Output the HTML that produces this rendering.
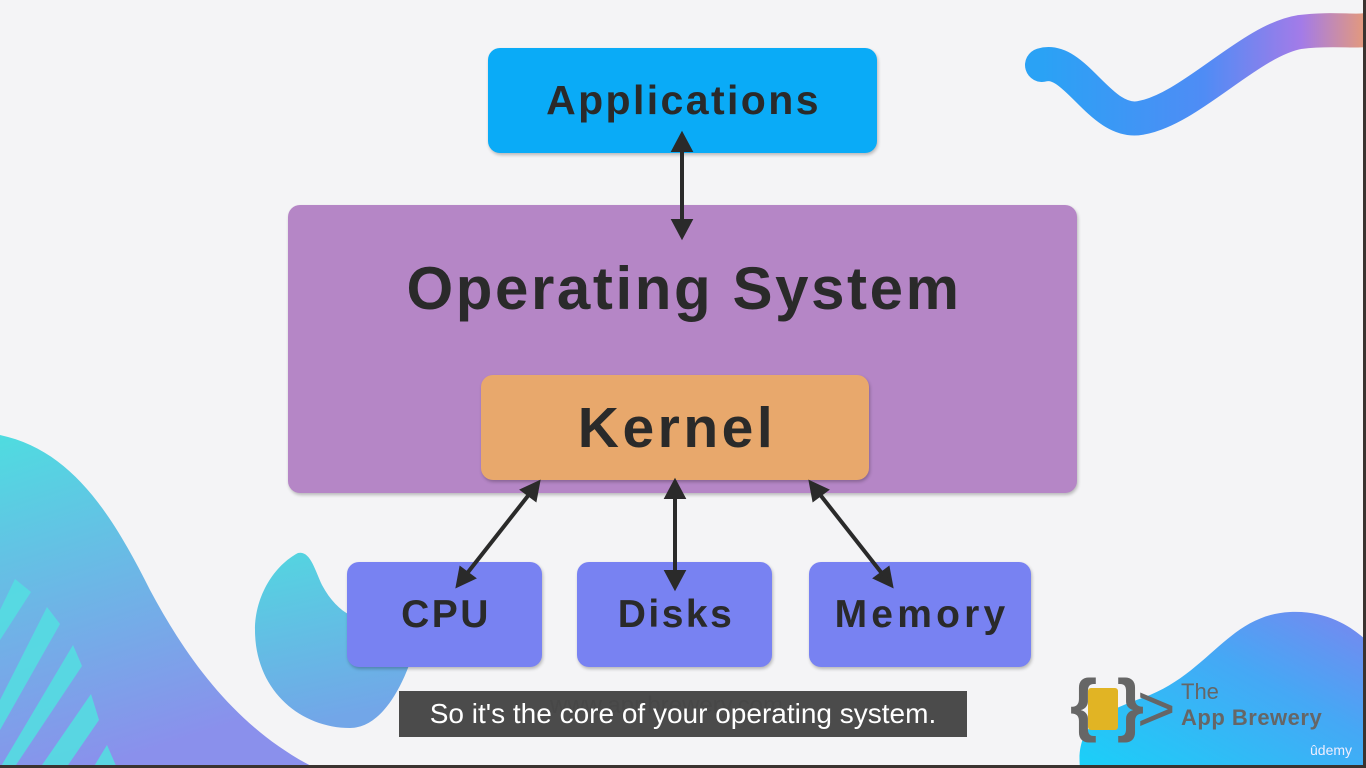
<!DOCTYPE html>
<html><head><meta charset="utf-8"><style>
html,body{margin:0;padding:0}
body{width:1366px;height:768px;overflow:hidden;background:#f4f4f6;position:relative;font-family:"Liberation Sans",sans-serif}
.box{position:absolute;border-radius:12px;box-shadow:1px 2px 3px rgba(0,0,0,.25);display:flex;align-items:center;justify-content:center;font-weight:bold;color:#2a2a2a;box-sizing:border-box}
svg{position:absolute;left:0;top:0}
</style></head><body>
<svg width="1366" height="768">
<defs>
<linearGradient id="g1" x1="0" y1="0" x2="0.3" y2="1"><stop offset="0" stop-color="#4fdce0"/><stop offset="1" stop-color="#8a90ec"/></linearGradient>
<linearGradient id="g2" x1="0" y1="0" x2="1" y2="0"><stop offset="0" stop-color="#2aa2f5"/><stop offset="0.5" stop-color="#4f8cf5"/><stop offset="0.8" stop-color="#a37be8"/><stop offset="1" stop-color="#e59a7a"/></linearGradient>
<linearGradient id="g3" x1="0" y1="1" x2="1" y2="0"><stop offset="0" stop-color="#1ad0f8"/><stop offset="0.6" stop-color="#45a8f5"/><stop offset="1" stop-color="#7a86ef"/></linearGradient>
<linearGradient id="g4" x1="0" y1="0" x2="0.2" y2="1"><stop offset="0" stop-color="#53d6e0"/><stop offset="1" stop-color="#72a6e8"/></linearGradient>
</defs>
<path d="M0,435 C70,450 110,510 150,590 C190,665 240,730 315,768 L0,768 Z" fill="url(#g1)"/>
<g fill="#55dde2" opacity="0.9">
<polygon points="0,610 15,579 31,592 0,640"/>
<polygon points="0,700 47,607 60,624 0,730"/>
<polygon points="0,768 73,645 82,666 14,768"/>
<polygon points="40,768 91,694 99,720 66,768"/>
<polygon points="93,768 107,745 117,768"/>
</g>
<path d="M298,553 C310,550 315,570 322,585 C330,600 340,610 350,615 L420,630 C405,690 380,728 350,728 C300,728 255,690 255,630 C255,595 275,565 298,553 Z" fill="url(#g4)"/>
<path d="M1042,65 C1075,55 1100,125 1140,118 C1190,110 1250,40 1300,32 C1330,28 1355,32 1366,30" fill="none" stroke="url(#g2)" stroke-width="34" stroke-linecap="round"/>
<path d="M1080,768 C1075,720 1110,710 1150,695 C1210,670 1230,615 1290,612 C1330,610 1355,630 1366,640 L1366,768 Z" fill="url(#g3)"/>
<rect x="1363" y="0" width="3" height="768" fill="#3a3330"/>
<rect x="0" y="765" width="1366" height="3" fill="#3a3330"/>
</svg>
<div class="box" style="left:488px;top:48px;width:389px;height:105px;background:#0aabf7;font-size:41px;letter-spacing:2.4px;padding-left:2px">Applications</div>
<div class="box" style="left:288px;top:205px;width:789px;height:288px;background:#b586c6;font-size:60px;letter-spacing:2.6px;align-items:flex-start;padding-top:49px;padding-left:3px">Operating System</div>
<div class="box" style="left:481px;top:375px;width:388px;height:105px;background:#e8a86c;font-size:57px;letter-spacing:3.5px;padding-left:4px">Kernel</div>
<div class="box" style="left:347px;top:562px;width:195px;height:105px;background:#7882f2;font-size:39px;letter-spacing:2.5px;padding-left:3px">CPU</div>
<div class="box" style="left:577px;top:562px;width:195px;height:105px;background:#7882f2;font-size:39px;letter-spacing:2.5px;padding-left:3px">Disks</div>
<div class="box" style="left:809px;top:562px;width:222px;height:105px;background:#7882f2;font-size:39px;letter-spacing:4.2px;padding-left:4px">Memory</div>
<svg width="1366" height="768">
<g stroke="#2a2a2a" stroke-width="4" fill="#2a2a2a">
<line x1="682" y1="145" x2="682" y2="226"/>
<polygon points="682,135 674,150 690,150"/><polygon points="682,236 674,221 690,221"/>
<line x1="675" y1="492" x2="675" y2="578"/>
<polygon points="675,482 667,497 683,497"/><polygon points="675,587 667,572 683,572"/>
<line x1="531" y1="492" x2="465" y2="576"/>
<polygon points="538,483 523,490 535,499"/><polygon points="458,585 461,569 473,578"/>
<line x1="818" y1="492" x2="884" y2="576"/>
<polygon points="811,483 826,490 814,499"/><polygon points="891,585 888,569 876,578"/>
</g>
</svg>
<div style="position:absolute;left:1070px;top:668px;width:100px;height:72px">
<div style="position:absolute;left:18px;top:20px;width:30px;height:42px;background:#e1b424;border-radius:3px"></div>
<div style="position:absolute;left:0;top:0;font-size:70px;color:#666;font-weight:bold;line-height:72px">{&nbsp;}</div>
</div>
<div style="position:absolute;left:1137px;top:678px;font-size:66px;color:#666;line-height:60px">&gt;</div>
<div style="position:absolute;left:1181px;top:680px;font-size:22px;color:#666;line-height:24px">The</div>
<div style="position:absolute;left:1181px;top:705px;font-size:22px;color:#666;font-weight:bold;line-height:26px;letter-spacing:0.5px">App Brewery</div>
<div style="position:absolute;left:1310px;top:742px;font-size:14px;color:#eef">ûdemy</div>
<div style="position:absolute;left:550px;top:692px;font-size:24px;color:#ccc">www.appbrewery.com</div>
<div style="position:absolute;left:399px;top:691px;width:568px;height:46px;background:rgba(60,60,60,.92);color:#fff;font-size:28px;line-height:46px;text-align:center">So it's the core of your operating system.</div>
</body></html>
